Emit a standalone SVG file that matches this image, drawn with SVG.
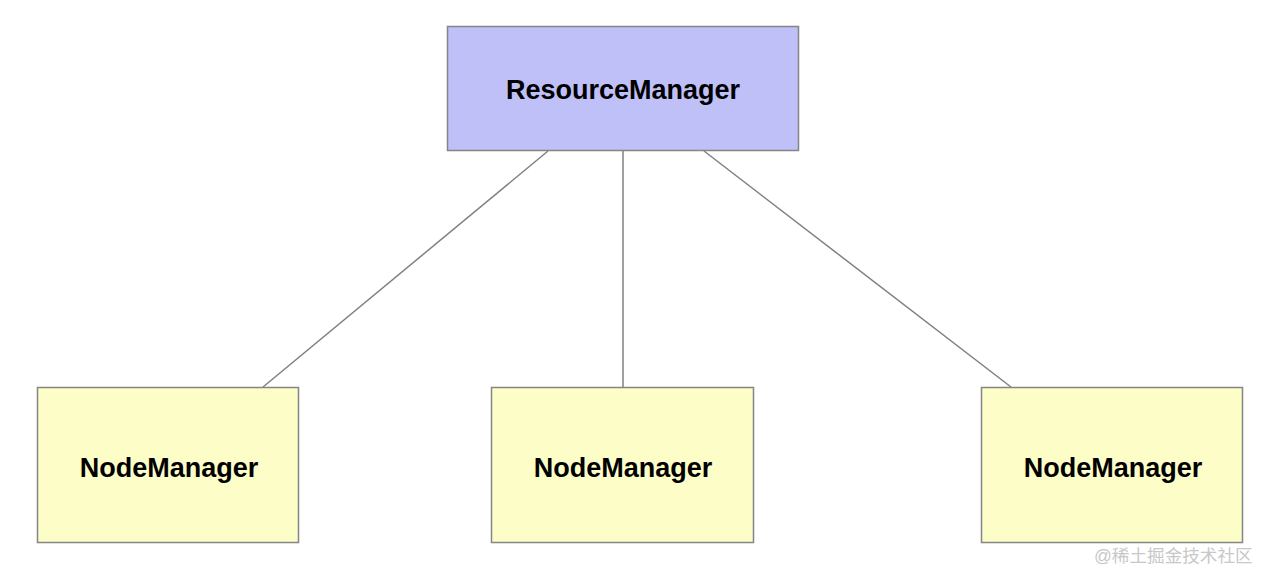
<svg xmlns="http://www.w3.org/2000/svg" width="1274" height="584" viewBox="0 0 1274 584">
<style>
.box{stroke:#858585;stroke-width:1.5}
.rm{fill:#bfc0f8}
.nm{fill:#fdfdc8}
.lbl{font-family:"Liberation Sans",Arial,sans-serif;font-weight:bold;font-size:27px;fill:#000;text-anchor:middle}
.edge{stroke:#808080;stroke-width:1.5;fill:none}
.wm{font-family:"Liberation Sans","Noto Sans CJK SC",sans-serif;font-size:17.6px;fill:#c8c8c8}
</style>
<rect width="1274" height="584" fill="#fff"/>
<g id="connectors">
<line class="edge" x1="548" y1="151" x2="263" y2="387"/>
<line class="edge" x1="623" y1="151" x2="623" y2="387"/>
<line class="edge" x1="704" y1="151" x2="1011" y2="387"/>
</g>
<g id="resourcemanager">
<rect class="box rm" x="447.5" y="26.5" width="351" height="124"/>
<text class="lbl" x="623" y="99">ResourceManager</text>
</g>
<g id="nodemanager1">
<rect class="box nm" x="37.5" y="387.5" width="261" height="155"/>
<text class="lbl" x="169" y="477">NodeManager</text>
</g>
<g id="nodemanager2">
<rect class="box nm" x="491.5" y="387.5" width="262" height="155"/>
<text class="lbl" x="623" y="477">NodeManager</text>
</g>
<g id="nodemanager3">
<rect class="box nm" x="981.5" y="387.5" width="261" height="155"/>
<text class="lbl" x="1113" y="477">NodeManager</text>
</g>
<text class="wm" x="1094" y="562">@稀土掘金技术社区</text>
</svg>
